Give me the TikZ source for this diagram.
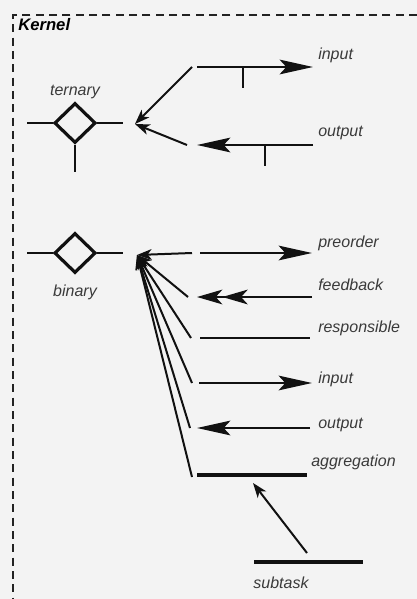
\documentclass[tikz,border=0pt]{standalone}
\usepackage{fontspec}
\setsansfont{Liberation Sans}
\usetikzlibrary{arrows.meta, positioning, shapes.geometric}
\definecolor{paper}{HTML}{F3F3F3}
\definecolor{ink}{HTML}{111111}
\definecolor{framecolor}{HTML}{222222}
\definecolor{labelcolor}{HTML}{3A3A3A}

\begin{document}
\begin{tikzpicture}[
    x=0.75pt, y=-0.75pt,
    every node/.style={font=\sffamily\itshape\fontsize{12}{14}\selectfont, inner sep=0pt},
    lab/.style={text=labelcolor, anchor=base west},
    rel/.style={ink, line width=1.8pt},
    heavy/.style={ink, line width=3.2pt},
    tick/.style={ink, line width=2pt},
    link/.style={ink, line width=1.5pt, -{Stealth[length=11pt, width=8pt, inset=3pt]}},
    fwd/.style={-{Stealth[length=25pt, width=11pt, inset=5pt]}},
    twin/.style={-{Stealth[length=19pt, width=11pt, inset=5pt] Stealth[length=19pt, width=11pt, inset=5pt]}},
    port/.style={draw=ink, line width=2.4pt, diamond, aspect=1,
        minimum width=31pt, minimum height=30pt},
]
\fill[paper] (0,0) rectangle (417,599);
\useasboundingbox (0,0) rectangle (417,599);

% ================================================================ frame
\draw[framecolor, line width=1.7pt, dash pattern=on 6pt off 4pt]
    (417,15) -- (13,15) -- (13,599);
\node[anchor=base west, font=\sffamily\bfseries\itshape\fontsize{12.5}{14}\selectfont] (kernel) at (18,31) {Kernel};

% ================================================================ ternary
\node[port] (tern) at (75,123) {};
\node[lab, anchor=base] (ternlab) at (75,96) {ternary};
\coordinate (ternW) at (27,123);
\coordinate (ternE) at (123,123);
\coordinate (ternS) at (75,172);
\draw[rel] (ternW) -- (tern.west);
\draw[rel] (tern.east) -- (ternE);
\draw[rel] (tern.south) -- (ternS);
\coordinate (tk) at (135,124);

% input
\coordinate (tinA) at (197,67);
\coordinate (tinB) at (313,67);
\coordinate (tinC) at (192,67);
\coordinate (tinT) at (243,88);
\draw[rel, fwd] (tinA) -- (tinB);
\draw[tick] (tinT |- tinA) -- (tinT);
\node[lab] (tinlab) at (318,60) {input};
\draw[link] (tinC) -- (tk);

% output
\coordinate (toutA) at (313,145);
\coordinate (toutB) at (197,145);
\coordinate (toutC) at (187,145);
\coordinate (toutT) at (265,166);
\draw[rel, fwd] (toutA) -- (toutB);
\draw[tick] (toutT |- toutA) -- (toutT);
\node[lab] (toutlab) at (318,137) {output};
\draw[link] (toutC) -- (tk);

% ================================================================ binary
\node[port] (bin) at (75,253) {};
\node[lab, anchor=base] (binlab) at (75,296) {binary};
\coordinate (binW) at (27,253);
\coordinate (binE) at (123,253);
\draw[rel] (binW) -- (bin.west);
\draw[rel] (bin.east) -- (binE);
\coordinate (bk) at (137,255);

% preorder
\coordinate (preA) at (200,253);
\coordinate (preB) at (312,253);
\coordinate (preC) at (192,253);
\draw[rel, fwd] (preA) -- (preB);
\node[lab] (prelab) at (318,247) {preorder};

% feedback
\coordinate (fbA) at (312,297);
\coordinate (fbB) at (197,297);
\coordinate (fbC) at (188,297);
\draw[rel, twin] (fbA) -- (fbB);
\node[lab] (fblab) at (318,290) {feedback};

% responsible
\coordinate (respA) at (200,338);
\coordinate (respB) at (310,338);
\coordinate (respC) at (191,338);
\draw[rel] (respA) -- (respB);
\node[lab] (resplab) at (318,332) {responsible};

% input
\coordinate (binA) at (199,383);
\coordinate (binB) at (312,383);
\coordinate (binC) at (192,383);
\draw[rel, fwd] (binA) -- (binB);
\node[lab] (binplab) at (318,383) {input};

% output
\coordinate (boutA) at (310,428);
\coordinate (boutB) at (197,428);
\coordinate (boutC) at (190,428);
\draw[rel, fwd] (boutA) -- (boutB);
\node[lab] (boutlab) at (318,428) {output};

% aggregation
\coordinate (aggA) at (197,475);
\coordinate (aggB) at (307,475);
\coordinate (aggC) at (192,477);
\draw[heavy] (aggA) -- (aggB);
\node[lab] (agglab) at (311,466) {aggregation};

% links into the binary kernel
\foreach \c in {preC, fbC, respC, binC, boutC, aggC}{
    \draw[link] (\c) -- (bk);
}

% ================================================================ subtask
\coordinate (subA) at (254,562);
\coordinate (subB) at (363,562);
\coordinate (subC) at (307,553);
\coordinate (aggT) at (253,483);
\draw[heavy] (subA) -- (subB);
\node[lab, anchor=base] (sublab) at (281,588) {subtask};
\draw[link] (subC) -- (aggT);
\end{tikzpicture}
\end{document}
